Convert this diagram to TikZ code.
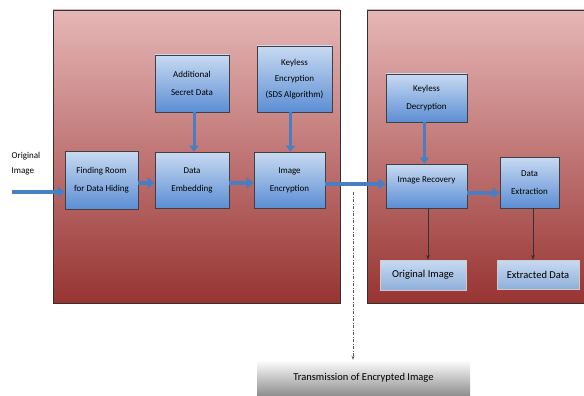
\documentclass[tikz,border=0pt]{standalone}
\usepackage{fontspec}
\setmainfont{Carlito}
\usetikzlibrary{arrows.meta}

\definecolor{panelTop}{HTML}{E6B6B6}
\definecolor{panelBot}{HTML}{973432}
\definecolor{boxTop}{HTML}{C8DAF2}
\definecolor{boxBot}{HTML}{5C8ED4}
\definecolor{outBot}{HTML}{8FB0DA}
\definecolor{arrowBlue}{HTML}{4A7EC4}

\begin{document}
\begin{tikzpicture}[x=1pt, y=-1pt,
    every node/.style={font=\fontsize{9}{18}\selectfont, text=black},
    panel/.style={draw=black!80, line width=0.6pt, top color=panelTop, bottom color=panelBot},
    procbox/.style={draw=black!75, line width=0.6pt, top color=boxTop, bottom color=boxBot,
        align=center, inner sep=1pt},
    outbox/.style={draw=black!20, top color=boxTop, bottom color=outBot, inner sep=1pt,
        font=\fontsize{10.5}{12}\selectfont},
    fat/.style={line width=3.5pt, draw=arrowBlue, -{Triangle[length=7pt,width=11pt]}},
    fatdown/.style={line width=3pt, draw=arrowBlue, -{Triangle[length=6pt,width=9pt]}},
    plainarrow/.style={draw=black!80, line width=0.5pt, -{Stealth[length=5pt]}}]

    \useasboundingbox (0,0) rectangle (584,396);

    % the two stages
    \shade[panel] (53,10) rectangle (340,303);
    \shade[panel] (367,10) rectangle (590,303);

    % embedding side
    \node[align=left, font=\fontsize{9}{15}\selectfont] (input) at (26,164) {Original\\Image};
    \coordinate (src) at (12,192);
    \node[procbox, minimum width=73pt, minimum height=58pt] (find) at (101.5,180) {Finding Room\\for Data Hiding};
    \node[procbox, minimum width=74pt, minimum height=56pt] (embed) at (192,180) {Data\\Embedding};
    \node[procbox, minimum width=74pt, minimum height=57pt] (secret) at (192,83.5) {Additional\\Secret Data};
    \node[procbox, minimum width=75pt, minimum height=66pt, font=\fontsize{9}{16}\selectfont] (keyenc) at (294.5,79) {Keyless\\Encryption\\(SDS Algorithm)};
    \node[procbox, minimum width=71pt, minimum height=56pt] (imgenc) at (289.5,180) {Image\\Encryption};

    % extraction side
    \node[procbox, minimum width=81pt, minimum height=48pt] (keydec) at (426.5,98) {Keyless\\Decryption};
    \node[procbox, minimum width=81pt, minimum height=44pt, text depth=12pt] (recov) at (426.5,186) {Image Recovery};
    \node[procbox, minimum width=59pt, minimum height=51pt] (extract) at (529.5,182.5) {Data\\Extraction};
    \node[outbox, minimum width=86pt, minimum height=30pt] (origout) at (423,275) {Original Image};
    \node[outbox, minimum width=82pt, minimum height=29pt] (extout) at (538,274.5) {Extracted Data};

    % channel
    \node[top color=white, bottom color=black!45, minimum width=213pt, minimum height=36pt,
        font=\fontsize{10.5}{12}\selectfont] (trans) at (363.5,378) {Transmission of Encrypted Image};
    \coordinate (tap) at (353,192);

    % connectors
    \draw[fat] (src) -- (src -| find.west);
    \draw[fat] ([yshift=-3pt]find.east) -- ([yshift=-3pt]embed.west);
    \draw[fat] ([yshift=-3pt]embed.east) -- ([yshift=-3pt]imgenc.west);
    \draw[fatdown] ([xshift=2pt]secret.south) -- ([xshift=2pt]embed.north);
    \draw[fatdown] ([xshift=-4pt]keyenc.south) -- ([xshift=-4pt]keyenc.south |- imgenc.north);
    \draw[fat] ([yshift=-4pt]imgenc.east) -- ([yshift=-4pt]imgenc.east -| recov.west);
    \draw[fatdown] ([xshift=-2pt]keydec.south) -- ([xshift=-2pt]recov.north);
    \draw[fat] ([yshift=-7pt]recov.east) -- ([yshift=-7pt]recov.east -| extract.west);
    \draw[plainarrow] ([xshift=1.5pt]recov.south) -- ([xshift=1.5pt]recov.south |- origout.north);
    \draw[plainarrow] ([xshift=3.5pt]extract.south) -- ([xshift=3.5pt]extract.south |- extout.north);
    \draw[draw=black!65, line width=0.6pt, dash pattern=on 3pt off 1.5pt on 1pt off 1.5pt,
        -{Stealth[length=4pt]}] (tap) -- (tap |- trans.north);
\end{tikzpicture}
\end{document}
